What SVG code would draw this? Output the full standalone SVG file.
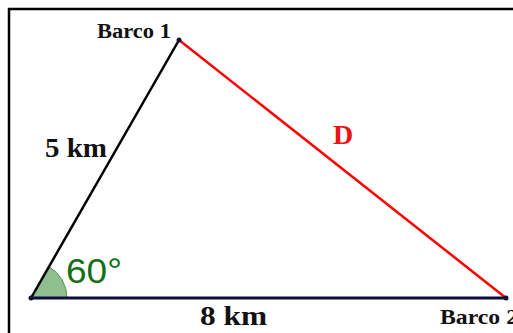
<svg xmlns="http://www.w3.org/2000/svg" width="513" height="333" viewBox="0 0 513 333">
<style>
.lbl{font-family:"Liberation Serif","Times New Roman",serif;font-weight:bold;fill:#111}
.pt{fill:#111133}
</style>
<rect x="0" y="0" width="513" height="333" fill="#ffffff"/>
<path d="M9,333 V9 H513" fill="none" stroke="#000" stroke-width="2.5"/>
<g id="angle">
<path d="M31,298 L67,298 A36,36 0 0 0 49,266.8 Z" fill="#8fbf8f" stroke="#4a9a4a" stroke-width="1"/>
<text x="66" y="283" font-family="Liberation Sans, Arial, sans-serif" font-size="35" fill="#137013" textLength="56" lengthAdjust="spacingAndGlyphs">60°</text>
</g>
<g id="connectors">
<line x1="31" y1="298" x2="179" y2="40" stroke="#000" stroke-width="2.5"/>
<line x1="179" y1="40" x2="506" y2="298" stroke="#ff0000" stroke-width="2.5"/>
<line x1="31" y1="298" x2="506" y2="298" stroke="#0d0d40" stroke-width="3"/>
</g>
<g id="vertexA"><circle class="pt" cx="31" cy="298" r="2.5"/></g>
<g id="barco1"><circle class="pt" cx="179" cy="40" r="2.5"/><text class="lbl" x="97" y="38" font-size="20" textLength="74" lengthAdjust="spacingAndGlyphs">Barco 1</text></g>
<g id="barco2"><circle class="pt" cx="506" cy="298" r="2.5"/><text class="lbl" x="440" y="324" font-size="20" textLength="78" lengthAdjust="spacingAndGlyphs">Barco 2</text></g>
<text class="lbl" x="45" y="157" font-size="28" textLength="62" lengthAdjust="spacingAndGlyphs">5 km</text>
<text class="lbl" x="200" y="325" font-size="27" textLength="67" lengthAdjust="spacingAndGlyphs">8 km</text>
<text class="lbl" x="333" y="144" font-size="28" style="fill:#ee1111">D</text>
</svg>
